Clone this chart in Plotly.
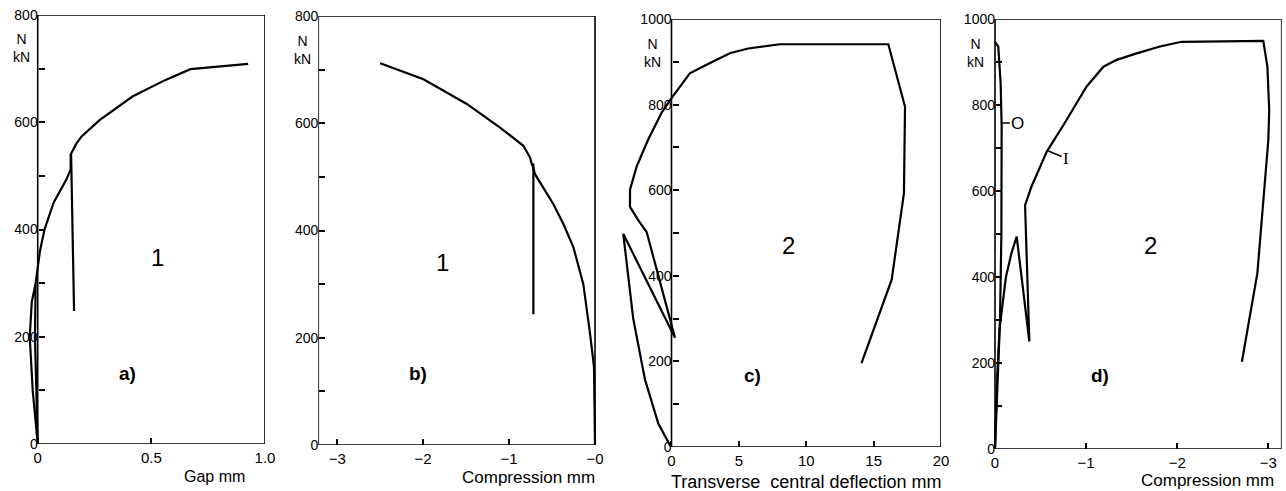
import plotly.graph_objects as go

# ---- data (N in kN) ----
# a) gap vs load, curve 1
a_load_gap = [-0.009, -0.012, -0.006, 0.0, -0.022, -0.035, -0.026, -0.009, 0.01, 0.03, 0.07, 0.126, 0.145,
              0.145, 0.17, 0.192, 0.272, 0.417, 0.5625, 0.672, 0.926]
a_load_n = [300, 200, 100, 0, 100, 200, 265, 300, 360, 400, 450, 493, 512,
            540, 560, 573, 604, 648, 679, 699, 709]
a_drop_gap = [0.147, 0.16]
a_drop_n = [540, 248]

# b) compression vs load, curve 1
b_load_comp = [0.0, -0.012, -0.058, -0.136, -0.252, -0.368, -0.484, -0.60, -0.698, -0.72,
               -0.736, -0.756, -0.833, -1.105, -1.492, -1.996, -2.5]
b_load_n = [0, 146, 208, 300, 369, 412, 449, 480, 505, 518,
            524, 536, 558, 592, 636, 682, 712]
b_drop_comp = [-0.717, -0.717]
b_drop_n = [525, 244]

# c) transverse central deflection vs load, curve 2
c_defl = [0, -0.11, -0.98, -1.97, -2.84, -3.33, -3.58, 0.26, -0.72, -1.35, -1.84, -2.47, -3.08, -3.08,
          -2.58, -1.72, -0.72, 0, 1.36, 2.6, 4.33, 5.69, 8.04, 16.09, 17.33, 17.25, 16.34, 14.1]
c_n = [0, 4, 55, 158, 300, 427, 498, 255, 372, 443, 502, 530, 561, 601,
       656, 719, 782, 815, 873, 893, 920, 931, 941, 941, 795, 593, 391, 196]

# d) compression vs load, curve 2 (O = outer, I = inner)
d_outer_comp = [0, -0.03, -0.055, -0.07, -0.073, -0.073, -0.062, -0.036, 0]
d_outer_n = [0, 150, 300, 500, 641, 750, 850, 936, 947]
d_inner_comp = [0, -0.02, -0.05, -0.12, -0.18, -0.238, -0.377, -0.33, -0.40, -0.567, -0.75, -1.006,
                -1.19, -1.336, -1.555, -1.81, -2.05, -2.945, -2.99, -3.01, -3.0, -2.88, -2.71]
d_inner_n = [0, 150, 280, 400, 455, 494, 250, 567, 610, 691, 753, 843,
             889, 905, 920, 936, 947, 949, 889, 788, 718, 409, 203]

# tick labels
a_xticks = [0, 0.5, 1.0]
a_xlabels = ["0", "0.5", "1.0"]
b_xticks = [-3, -2, -1, 0]
b_xlabels = ["\u22123", "\u22122", "\u22121", "\u22120"]
c_xticks = [0, 5, 10, 15, 20]
c_xlabels = ["0", "5", "10", "15", "20"]
d_xticks = [0, -1, -2, -3]
d_xlabels = ["0", "\u22121", "\u22122", "\u22123"]

W, H = 1286, 491
FONT = "Liberation Sans"

# pixel frame of each panel: left, right, top, bottom ; data frame x0,x1 ; plotted x range ; y max
panels = [
    dict(box=(37.7, 265, 15, 444), frame=(0, 1.0), xr=(-0.05, 1.0), ymax=800,
         ticks=(a_xticks, a_xlabels), title="Gap mm", tpos=(214, 476), tsize=16,
         num="1", numpos=(157, 257), tag="a)", tagpos=(127, 373), nkn=(21, 48)),
    dict(box=(318.3, 595, 16, 445), frame=(-3.22, 0), xr=(-3.22, 0.02), ymax=800,
         ticks=(b_xticks, b_xlabels), title="Compression mm", tpos=(528, 477), tsize=17,
         num="1", numpos=(442, 262), tag="b)", tagpos=(418, 373), nkn=(302, 50)),
    dict(box=(671.5, 941, 19, 447), frame=(0, 20), xr=(-3.75, 20), ymax=1000,
         ticks=(c_xticks, c_xlabels), title="Transverse\u00a0 central deflection mm", tpos=(806, 482),
         tsize=18, num="2", numpos=(788, 245), tag="c)", tagpos=(752, 375), nkn=(652, 53)),
    dict(box=(995, 1281.7, 19, 449), frame=(0, -3.147), xr=(0.03, -3.147), ymax=1000,
         ticks=(d_xticks, d_xlabels), title="Compression mm", tpos=(1207, 480), tsize=17,
         num="2", numpos=(1150, 245), tag="d)", tagpos=(1100, 375), nkn=(975, 53)),
]

curves = [
    (1, a_load_gap, a_load_n), (1, a_drop_gap, a_drop_n),
    (2, b_load_comp, b_load_n), (2, b_drop_comp, b_drop_n),
    (3, c_defl, c_n),
    (4, d_outer_comp, d_outer_n), (4, d_inner_comp, d_inner_n),
]

fig = go.Figure()
for k, xs, ys in curves:
    sfx = "" if k == 1 else str(k)
    fig.add_trace(go.Scatter(x=xs, y=ys, mode="lines", xaxis="x" + sfx, yaxis="y" + sfx,
                             line=dict(color="black", width=2.2), hoverinfo="skip"))

layout = dict(width=W, height=H, margin=dict(l=0, r=0, t=0, b=0, autoexpand=False),
              template="none",
              paper_bgcolor="white", plot_bgcolor="white", showlegend=False,
              font=dict(family=FONT, size=14, color="black"))


def paper_text(text, pos, size, **kw):
    # text placed by pixel position, centred on it
    return dict(text=text, x=pos[0] / W, y=1 - pos[1] / H, xref="paper", yref="paper",
                xanchor="center", yanchor="middle", showarrow=False, font=dict(size=size), **kw)


shapes, annots = [], []
for i, p in enumerate(panels, start=1):
    sfx = "" if i == 1 else str(i)
    left, right, top, bottom = p["box"]
    f0, f1 = p["frame"]
    ppu = (right - left) / (f1 - f0)
    dl = left + (p["xr"][0] - f0) * ppu
    dr = left + (p["xr"][1] - f0) * ppu
    ymax = p["ymax"]
    yvals = list(range(0, ymax + 1, 100))
    ytext = [str(v) if v % 200 == 0 else "" for v in yvals]
    layout["xaxis" + sfx] = dict(domain=[dl / W, dr / W], range=list(p["xr"]), anchor="y" + sfx,
                                 automargin=False,
                                 showgrid=False, zeroline=False, showline=False,
                                 tickmode="array", tickvals=p["ticks"][0], ticktext=p["ticks"][1],
                                 ticks="inside", ticklen=6, tickwidth=1.5, tickcolor="black",
                                 ticklabelstandoff=3, tickfont=dict(size=15))
    layout["yaxis" + sfx] = dict(domain=[1 - bottom / H, 1 - top / H], range=[0, ymax],
                                 anchor="free", position=left / W, automargin=False,
                                 showgrid=False, zeroline=False, showline=False,
                                 tickmode="array", tickvals=yvals, ticktext=ytext,
                                 ticks="inside", ticklen=6, tickwidth=1.5, tickcolor="black",
                                 ticklabelstandoff=0, tickfont=dict(size=14))
    shapes.append(dict(type="rect", xref="x" + sfx, yref="y" + sfx, x0=f0, x1=f1, y0=0, y1=ymax,
                       line=dict(color="black", width=1.6), layer="above"))
    annots.append(paper_text(p["title"], p["tpos"], p["tsize"]))
    annots.append(paper_text(p["num"], p["numpos"], 24))
    annots.append(paper_text("<b>" + p["tag"] + "</b>", p["tagpos"], 19))
    annots.append(paper_text("N<br>kN", p["nkn"], 14, align="center"))

# curve labels in d)
annots.append(dict(text="O", x=-0.075, y=758, xref="x4", yref="y4", ax=-0.25, ay=758,
                   axref="x4", ayref="y4", showarrow=True, arrowhead=0, arrowwidth=1.5,
                   arrowcolor="black", font=dict(size=17)))
annots.append(dict(text="I", x=-0.585, y=693, xref="x4", yref="y4", ax=-0.78, ay=676,
                   axref="x4", ayref="y4", showarrow=True, arrowhead=0, arrowwidth=1.5,
                   arrowcolor="black", font=dict(size=17, family="Liberation Serif")))

layout["shapes"] = shapes
layout["annotations"] = annots
fig.update_layout(**layout)
fig.write_html("out.html", config={"displayModeBar": False},
               post_script="document.body.style.margin='0px';")
